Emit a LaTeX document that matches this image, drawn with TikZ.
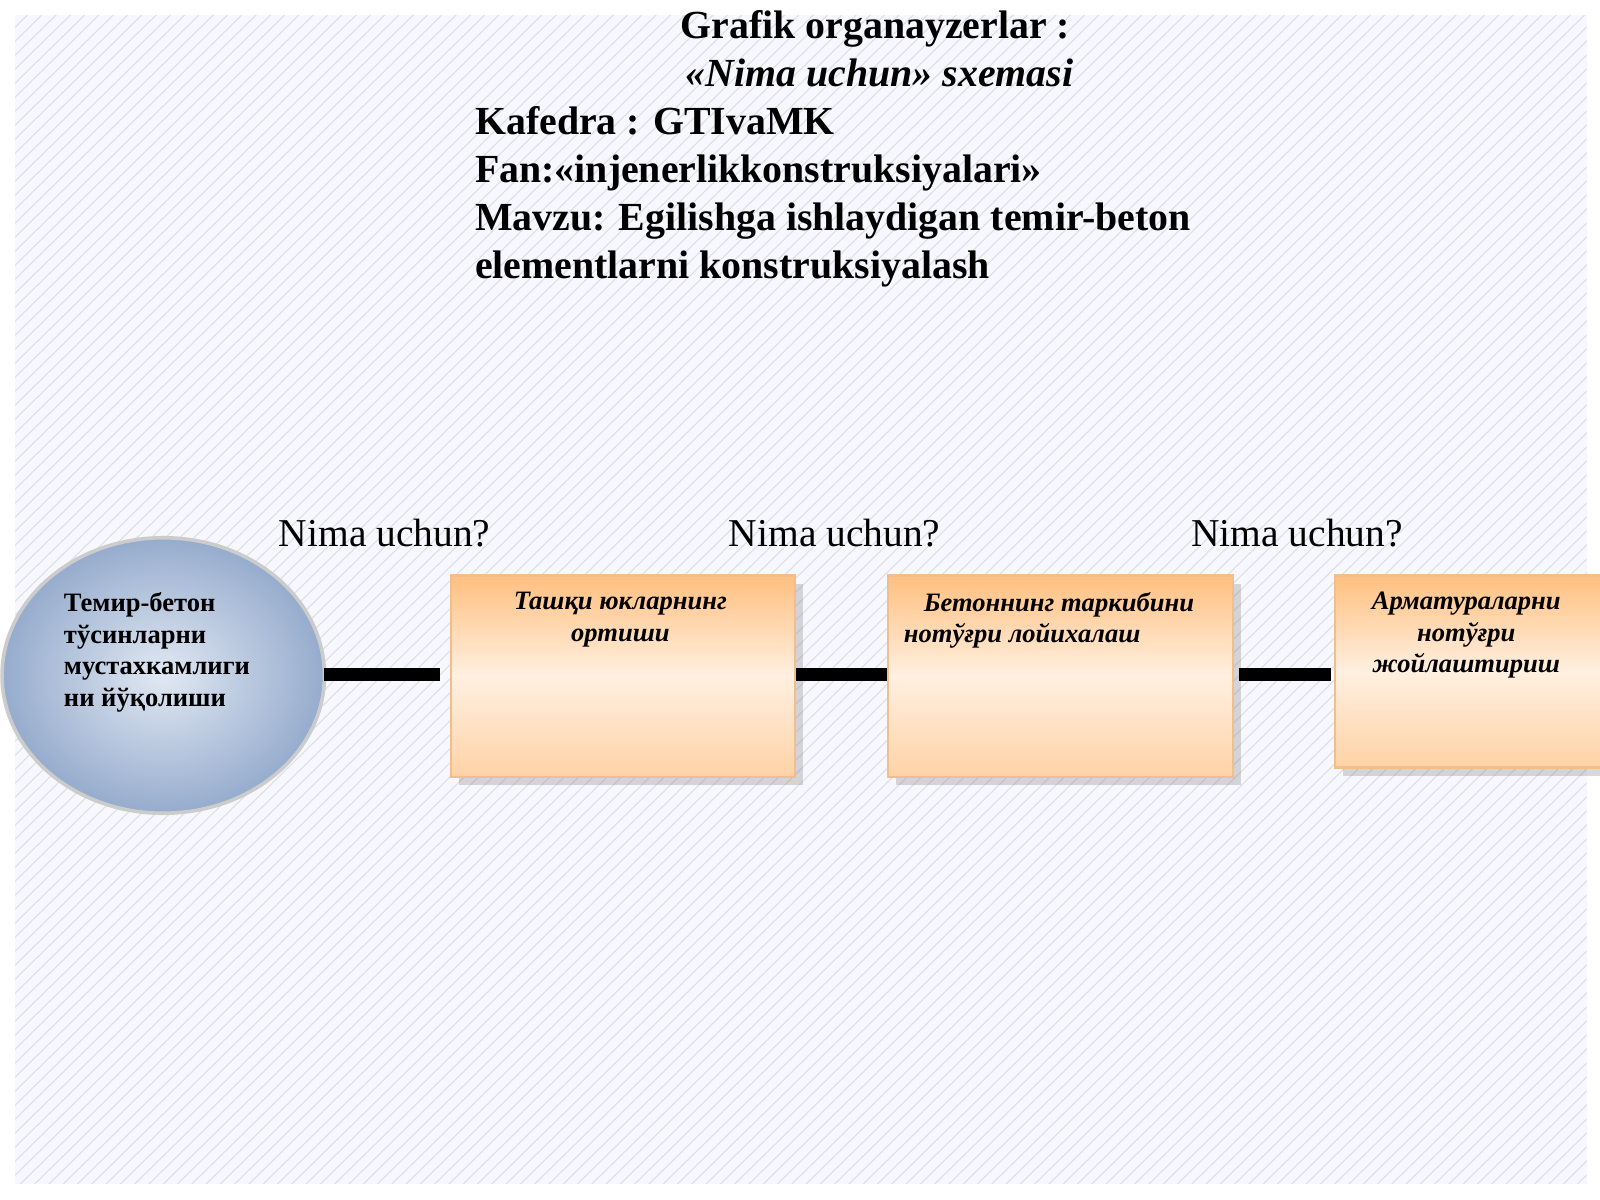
\documentclass[tikz,border=0pt]{standalone}
\usepackage{fontspec}
\setmainfont{Liberation Serif}
\usetikzlibrary{shadows}
\definecolor{ellout}{RGB}{150,172,205}
\definecolor{ellin}{RGB}{225,232,243}
\begin{document}
\begin{tikzpicture}[x=0.01cm,y=-0.01cm,
 box/.style={draw=orange!60!brown!50,line width=0.6pt,top color=orange!50,bottom color=orange!35,middle color=orange!12,drop shadow={opacity=0.3},anchor=north west,inner sep=0pt},
 bt/.style={font=\fontsize{7.4}{8.8}\selectfont\bfseries\itshape,align=center},
 link/.style={line width=3.4pt,black},
 ask/.style={font=\fontsize{11}{13}\selectfont},
 head/.style={font=\fontsize{11.1}{13.4}\selectfont\bfseries}]
\useasboundingbox (0,0) rectangle (1568,1176);
\fill[blue!3] (15,15) rectangle (1555,1160);
\begin{scope}
\clip (15,15) rectangle (1555,1160);
\foreach \i in {0,14,...,2800} \draw[gray!25,line width=0.3pt] (\i-1200,1176) -- (\i,0);
\end{scope}
\node[head,anchor=base] (t1) at (858,38) {Grafik organayzerlar :};
\node[head,anchor=base,font=\fontsize{11.1}{13.4}\selectfont\bfseries\itshape] (t2) at (862,85) {«Nima uchun» sxemasi};
\node[head,anchor=base west,inner sep=0pt] (t3) at (465,132) {Kafedra : GTIvaMK};
\node[head,anchor=base west,inner sep=0pt] (t4) at (465,179) {Fan:«injenerlikkonstruksiyalari»};
\node[head,anchor=base west,inner sep=0pt] (t5) at (465,226) {Mavzu: Egilishga ishlaydigan temir-beton};
\node[head,anchor=base west,inner sep=0pt] (t6) at (465,273) {elementlarni konstruksiyalash};
\node[ask,anchor=base] (q1) at (377,536) {Nima uchun?};
\node[ask,anchor=base] (q2) at (818,536) {Nima uchun?};
\node[ask,anchor=base] (q3) at (1271,536) {Nima uchun?};
\shade[inner color=ellin,outer color=ellout,draw=gray!40,line width=1pt] (160,662) ellipse [x radius=158,y radius=135];
\node[font=\fontsize{7.4}{8.8}\selectfont\bfseries,align=left,anchor=north west,inner sep=0pt] (e) at (62,580) {Темир-бетон\\тўсинларни\\мустахкамлиги\\ни йўқолиши};
\coordinate (er) at (318,661);
\node[box,minimum width=3.37cm,minimum height=1.97cm] (b1) at (441,563) {};
\node[box,minimum width=3.38cm,minimum height=1.97cm] (b2) at (869,563) {};
\node[box,minimum width=2.7cm,minimum height=1.88cm] (b3) at (1307,563) {};
\node[bt,anchor=north] (l1) at (608,568) {Ташқи юкларнинг\\ортиши};
\node[bt,anchor=north,align=left] (l2) at (1028,568) {\ \ \ Бетоннинг таркибини\\нотўғри лойихалаш};
\node[bt,anchor=north] (l3) at (1437,568) {Арматураларни\\нотўғри\\жойлаштириш};
\draw[link] (er) -- ([xshift=-0.1cm]b1.west |- er);
\draw[link] (b1.east |- er) -- (b2.west |- er);
\draw[link] ([xshift=0.05cm]b2.east |- er) -- ([xshift=-0.03cm]b3.west |- er);
\end{tikzpicture}
\end{document}
